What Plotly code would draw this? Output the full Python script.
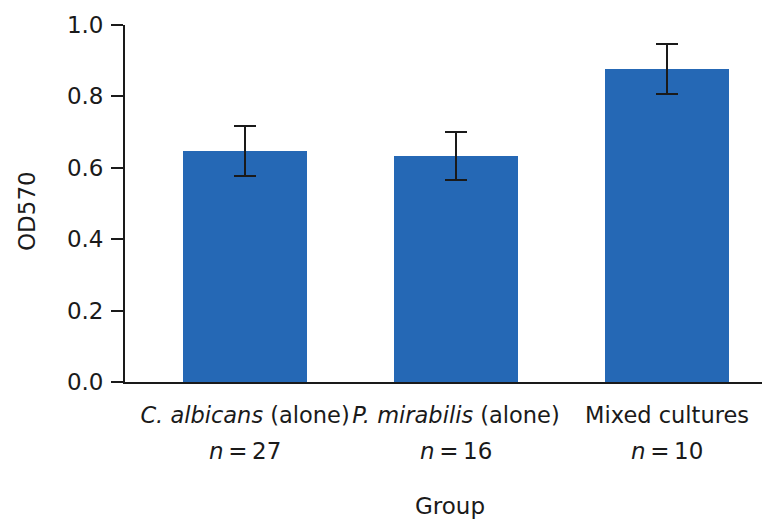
import plotly.graph_objects as go

categories = ["<i>C. albicans</i> (alone)", "<i>P. mirabilis</i> (alone)", "Mixed cultures"]
n_values = [27, 16, 10]
od570 = [0.647, 0.633, 0.877]
err = [0.071, 0.066, 0.071]
y_ticks = [0.0, 0.2, 0.4, 0.6, 0.8, 1.0]
y_tick_labels = ["0.0", "0.2", "0.4", "0.6", "0.8", "1.0"]
x_title = "Group"
y_title = "OD570"

FONT = "DejaVu Sans"
BAR_COLOR = "#2568b5"
INK = "#1a1a1a"

xs = list(range(len(categories)))

fig = go.Figure()
fig.add_trace(go.Bar(
    x=xs,
    y=od570,
    width=0.59,
    marker=dict(color=BAR_COLOR, line=dict(width=0)),
    error_y=dict(type="data", array=err, visible=True, color=INK, thickness=2, width=11),
    showlegend=False,
))

annotations = []
for x, n in zip(xs, n_values):
    annotations.append(dict(
        x=x, xref="x", y=0, yref="paper", yanchor="top", xanchor="center",
        yshift=-54, showarrow=False,
        text=f"<i>n</i>\u2009=\u2009{n}",
        font=dict(family=FONT, size=23, color=INK),
    ))
annotations.append(dict(
    x=0.5, xref="paper", y=0, yref="paper", yanchor="top", xanchor="center",
    yshift=-109, xshift=2, showarrow=False, text=x_title,
    font=dict(family=FONT, size=23, color=INK),
))
annotations.append(dict(
    x=0, xref="paper", y=0.5, yref="paper", yanchor="middle", xanchor="center",
    xshift=-98.5, yshift=-8, showarrow=False, text=y_title, textangle=-90,
    font=dict(family=FONT, size=23, color=INK),
))

fig.update_layout(
    width=770, height=522,
    margin=dict(l=117, r=8, t=17, b=148, autoexpand=False),
    plot_bgcolor="white", paper_bgcolor="white",
    font=dict(family=FONT, size=23, color=INK),
    bargap=0,
    annotations=annotations,
)
fig.update_xaxes(
    range=[-0.569, 2.488],
    tickmode="array", tickvals=xs, ticktext=categories,
    tickangle=0, automargin=False,
    showline=True, linecolor=INK, linewidth=1.8,
    ticks="", showgrid=False, zeroline=False,
    tickfont=dict(family=FONT, size=22.5),
    ticklabelstandoff=12,
)
fig.update_yaxes(
    range=[0, 1.0],
    tickmode="array", tickvals=y_ticks, ticktext=y_tick_labels,
    automargin=False,
    showline=True, linecolor=INK, linewidth=1.8,
    ticks="outside", ticklen=12, tickwidth=1.8, tickcolor=INK,
    showgrid=False, zeroline=False,
    tickfont=dict(family=FONT, size=23),
    ticklabelstandoff=3,
)

fig.write_html("out.html")
